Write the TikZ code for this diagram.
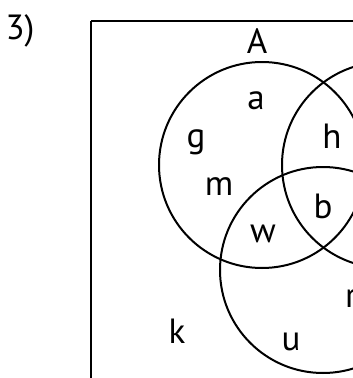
\documentclass[tikz,border=0pt]{standalone}
\usepackage{fontspec}
\setmainfont{PT Sans}
\begin{document}
\begin{tikzpicture}[x=1pt,y=-1pt,
  lbl/.style={anchor=base,inner sep=0pt,font=\fontsize{35}{40}\selectfont},
  setline/.style={draw=black,line width=2pt},
  frame/.style={draw=black,line width=2.3pt}]
\useasboundingbox (0,0) rectangle (353,378);
\clip (0,0) rectangle (353,378);
\draw[frame] (91,21) -- (400,21) (91,21) -- (91,400);
\draw[setline] (262,165) circle[radius=103];
\draw[setline] (385,165) circle[radius=103];
\draw[setline] (323,270) circle[radius=103];
\node[lbl] (q) at (20,39) {3)};
\node[lbl] (A) at (257,53) {A};
\node[lbl] (a) at (256,109) {a};
\node[lbl] (g) at (196,147) {g};
\node[lbl] (h) at (332,148) {h};
\node[lbl] (m) at (219,195) {m};
\node[lbl] (b) at (323,218) {b};
\node[lbl] (w) at (263,242) {w};
\node[lbl,anchor=base west] (r) at (345,307) {r};
\node[lbl] (k) at (177,343) {k};
\node[lbl] (u) at (291,350) {u};
\end{tikzpicture}
\end{document}
